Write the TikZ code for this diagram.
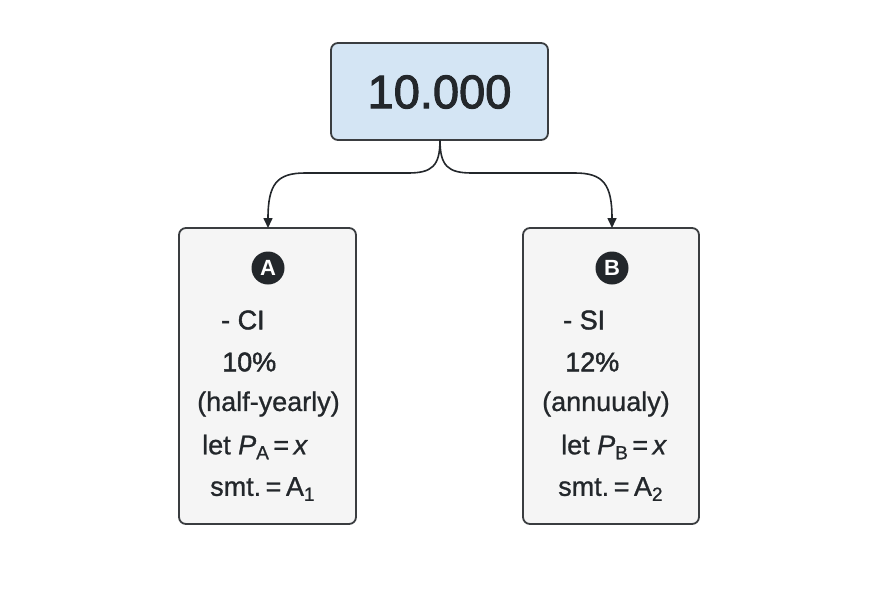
\documentclass[tikz,border=0pt]{standalone}
\usepackage{fontspec}
\setmainfont{Liberation Sans}
\newfontfamily\medfont[FakeBold=0.9]{Liberation Sans}
\newfontfamily\semifont[FakeBold=1.6]{Liberation Sans}
\newfontfamily\heavyfont[FakeBold=2.2]{Liberation Sans}
\usetikzlibrary{arrows.meta}
\definecolor{ink}{HTML}{23272B}
\definecolor{topfill}{HTML}{D4E5F4}
\definecolor{boxfill}{HTML}{F5F5F5}
\definecolor{edge}{HTML}{3A3D40}
\tikzset{
  topbox/.style={draw=edge, line width=1.8pt, fill=topfill, rounded corners=7pt},
  sidebox/.style={draw=edge, line width=1.8pt, fill=boxfill, rounded corners=7pt},
  badge/.style={circle, fill=ink, text=white, inner sep=0pt, minimum size=33pt, font=\fontsize{22}{22}\selectfont\bfseries},
  line/.style={anchor=west, text=ink, inner sep=0pt, font=\fontsize{27}{27}\selectfont\medfont},
  conn/.style={draw=ink, line width=1.6pt, -{Triangle[length=10pt,width=9pt]}},
}
\newcommand{\subx}[1]{\raisebox{-0.35ex}{\fontsize{19}{19}\selectfont #1}}
\begin{document}
\begin{tikzpicture}[x=1pt,y=-1pt]
\useasboundingbox (0,0) rectangle (894,595);
% top box
\path[topbox] (331,43) rectangle (548,140);
\node[inner sep=0pt, text=ink, font=\fontsize{47}{47}\selectfont\heavyfont] (top) at (439.5,92) {10.000};
\coordinate (ts) at (440,140);
% side boxes
\path[sidebox] (179,228) rectangle (356,524);
\path[sidebox] (523,228) rectangle (699,524);
\coordinate (aT) at (268,228);
\coordinate (bT) at (612,228);
% connectors
\draw[conn] (ts) .. controls (440,166) and (432,173) .. (408,173) -- (305,173) .. controls (277,173) and (268,184) .. (aT);
\draw[conn] (ts) .. controls (440,166) and (448,173) .. (472,173) -- (575,173) .. controls (603,173) and (612,184) .. (bT);
% badges
\node[badge] (A) at (268,268) {A};
\node[badge] (B) at (612,268) {B};
% left text
\node[line, font=\fontsize{27}{27}\selectfont\semifont] (a1) at (221,320) {- CI};
\node[line, font=\fontsize{27}{27}\selectfont\semifont] (a2) at (222,362) {10\%};
\node[line] (a3) at (197,404) {(half-yearly)};
\node[line] (a4) at (202,447) {let \textit{P}\subx{A}\,=\,\textit{x}};
\node[line] (a5) at (210,489) {smt.\,=\,A\subx{1}};
% right text
\node[line, font=\fontsize{27}{27}\selectfont\semifont] (b1) at (563,320) {- SI};
\node[line, font=\fontsize{27}{27}\selectfont\semifont] (b2) at (565,362) {12\%};
\node[line] (b3) at (542,404) {(annuualy)};
\node[line] (b4) at (561,447) {let \textit{P}\subx{B}\,=\,\textit{x}};
\node[line] (b5) at (558,489) {smt.\,=\,A\subx{2}};
\end{tikzpicture}
\end{document}
